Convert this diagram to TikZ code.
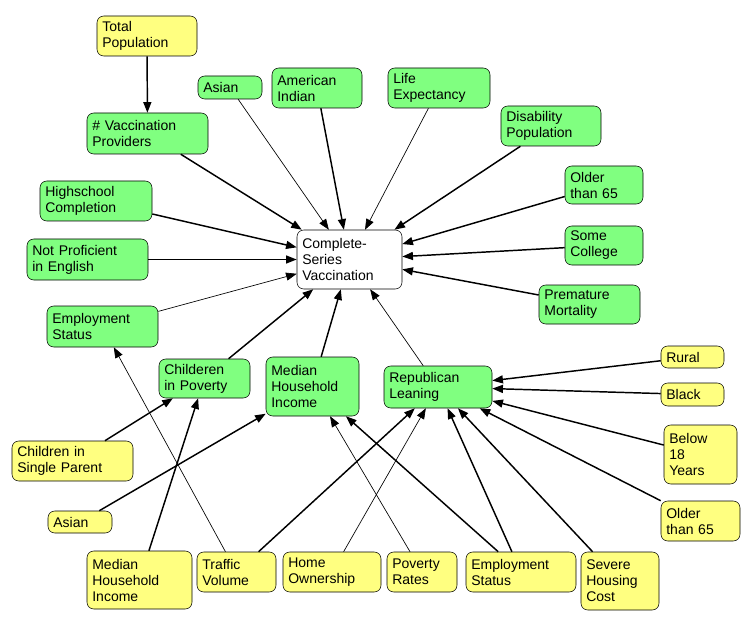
\documentclass[tikz,border=0pt]{standalone}
\usepackage{fontspec}
\setmainfont{Liberation Sans}
\usetikzlibrary{arrows.meta}
\definecolor{gr}{HTML}{80FF80}
\definecolor{yl}{HTML}{FFFF80}
\tikzset{
 bx/.style={draw=black,rounded corners=5pt,inner xsep=4pt,inner ysep=1pt,font=\fontsize{10.5}{12}\selectfont,align=left},
 gbox/.style={bx,fill=gr},
 ybox/.style={bx,fill=yl},
 wbox/.style={bx,fill=white},
 th/.style={-{Triangle[length=8pt,width=6pt]},line width=1.1pt},
 tn/.style={-{Triangle[length=8pt,width=6pt]},line width=0.5pt},
}
\newcommand{\bxx}[7]{\node[#6,minimum width={(#4-#2)*0.75pt},minimum height={(#5-#3)*0.75pt},text width={(#4-#2)*0.75pt-8pt}] (#1) at ({(#2+#4)/2},{-(#3+#5)/2}) {#7};}
\begin{document}
\begin{tikzpicture}[x=0.75pt,y=0.75pt]
\useasboundingbox (0,-624) rectangle (750,0);
\bxx{tp}{97}{16}{197}{56}{ybox}{Total\\Population}
\bxx{vp}{87}{113}{208}{154}{gbox}{\# Vaccination\\Providers}
\bxx{as1}{198}{76}{262}{99}{gbox}{Asian}
\bxx{ai}{272}{68}{362}{108}{gbox}{American\\Indian}
\bxx{le}{388}{68}{490}{108}{gbox}{Life\\Expectancy}
\bxx{dp}{501}{106}{601}{146}{gbox}{Disability\\Population}
\bxx{o1}{565}{166}{643}{204}{gbox}{Older\\than 65}
\bxx{hs}{40}{181}{152}{221}{gbox}{Highschool\\Completion}
\bxx{np}{27}{239}{148}{280}{gbox}{Not Proficient\\in English}
\bxx{sc}{565}{226}{643}{265}{gbox}{Some\\College}
\bxx{pm}{539}{285}{640}{324}{gbox}{Premature\\Mortality}
\bxx{cs}{297}{230}{402}{289}{wbox}{Complete-\\Series\\Vaccination}
\bxx{es1}{47}{306}{158}{347}{gbox}{Employment\\Status}
\bxx{cp}{159}{359}{250}{398}{gbox}{Childeren\\in Poverty}
\bxx{mh1}{266}{357}{359}{416}{gbox}{Median\\Household\\Income}
\bxx{rl}{384}{366}{492}{408}{gbox}{Republican\\Leaning}
\bxx{ru}{661}{346}{724}{368}{ybox}{Rural}
\bxx{bl}{661}{383}{724}{406}{ybox}{Black}
\bxx{b18}{664}{425}{737}{484}{ybox}{Below\\18\\Years}
\bxx{o2}{661}{501}{740}{541}{ybox}{Older\\than 65}
\bxx{csp}{12}{441}{133}{481}{ybox}{Children in\\Single Parent}
\bxx{as2}{48}{511}{112}{533}{ybox}{Asian}
\bxx{mh2}{87}{551}{192}{609}{ybox}{Median\\Household\\Income}
\bxx{tv}{197}{552}{276}{592}{ybox}{Traffic\\Volume}
\bxx{ho}{283}{552}{381}{592}{ybox}{Home\\Ownership}
\bxx{pr}{387}{552}{457}{592}{ybox}{Poverty\\Rates}
\bxx{es2}{466}{552}{576}{592}{ybox}{Employment\\Status}
\bxx{sh}{581}{552}{659}{610}{ybox}{Severe\\Housing\\Cost}
\draw[th] (tp) -- (vp);
\draw[th] (vp) -- (cs);
\draw[tn] (as1) -- (cs);
\draw[th] (ai) -- (cs);
\draw[tn] (le) -- (cs);
\draw[th] (dp) -- (cs);
\draw[th] (o1) -- (cs);
\draw[th] (hs) -- (cs);
\draw[th] (np) -- (cs);
\draw[th] (sc) -- (cs);
\draw[th] (pm) -- (cs);
\draw[tn] (es1) -- (cs);
\draw[th] (cp) -- (cs);
\draw[th] (mh1) -- (cs);
\draw[tn] (rl) -- (cs);
\draw[th] (ru) -- (rl);
\draw[th] (bl) -- (rl);
\draw[th] (b18) -- (rl);
\draw[th] (o2) -- (rl);
\draw[th] (csp) -- (cp);
\draw[th] (as2) -- (mh1);
\draw[th] (mh2) -- (cp);
\draw[tn] (tv) -- (es1);
\draw[th] (tv) -- (rl);
\draw[tn] (ho) -- (rl);
\draw[tn] (pr) -- (mh1);
\draw[th] (es2) -- (mh1);
\draw[th] (es2) -- (rl);
\draw[th] (sh) -- (rl);
\end{tikzpicture}
\end{document}
